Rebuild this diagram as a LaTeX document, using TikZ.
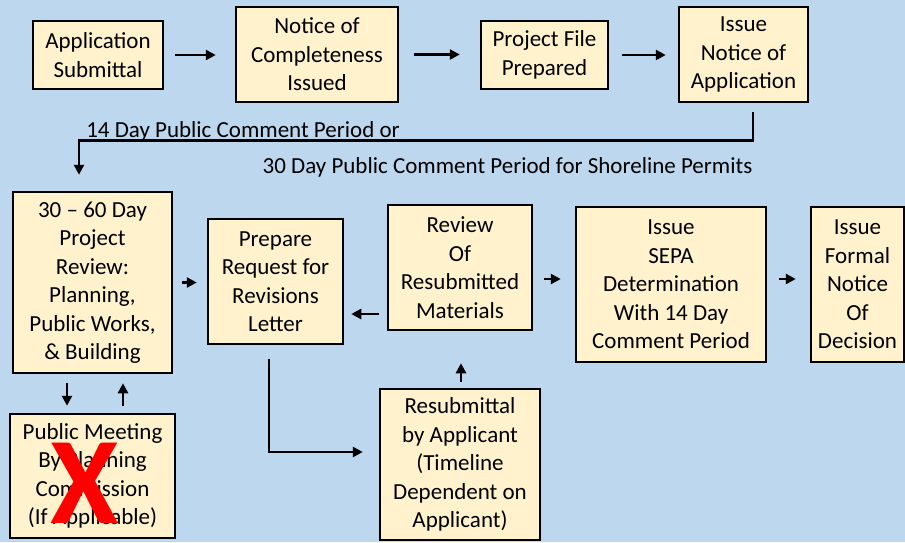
\documentclass[tikz,border=0pt]{standalone}
\usepackage{fontspec}
\setmainfont{Carlito}
\usetikzlibrary{arrows.meta}

\definecolor{hellblau}{RGB}{189,215,238}
\definecolor{kasten}{RGB}{255,242,204}

\begin{document}
\begin{tikzpicture}[x=1pt,y=-1pt,
		schritt/.style={draw,line width=2.5pt,fill=kasten,align=center,inner sep=0pt,
			font=\fontsize{23}{28.5}\selectfont},
		pfeil/.style={line width=2.8pt,-{Triangle[length=10pt,width=10pt]}},
		hinweis/.style={font=\fontsize{23}{28.5}\selectfont,inner sep=0pt,anchor=base}]
		
		% Hintergrund
		\useasboundingbox (0,0) rectangle (905,542);
		\fill[hellblau] (0,0) rectangle (905,542);
		
		% Obere Reihe
		\node[schritt,minimum width=130pt,minimum height=68pt] (antrag) at (98,55) {Application\\Submittal};
		\node[schritt,minimum width=162pt,minimum height=95pt] (vollst) at (317,54.5) {Notice of\\Completeness\\Issued};
		\node[schritt,minimum width=127pt,minimum height=68pt] (akte) at (544.5,55) {Project File\\Prepared};
		\node[schritt,minimum width=129pt,minimum height=95pt] (noa) at (743.5,54.5) {Issue\\Notice of\\Application};
		
		% Untere Reihe
		\node[schritt,minimum width=159pt,minimum height=181pt] (pruefung) at (92.5,282.5) {30 -- 60 Day\\Project\\Review:\\Planning,\\Public Works,\\\& Building};
		\node[schritt,minimum width=135pt,minimum height=125pt] (anfrage) at (275.5,281.5) {Prepare\\Request for\\Revisions\\Letter};
		\node[schritt,minimum width=144pt,minimum height=125pt] (nachpruef) at (460,267.5) {Review\\Of\\Resubmitted\\Materials};
		\node[schritt,minimum width=190pt,minimum height=155pt] (sepa) at (671,284.5) {Issue\\SEPA\\Determination\\With 14 Day\\Comment Period};
		\node[schritt,minimum width=93pt,minimum height=155pt] (bescheid) at (857.5,284.5) {Issue\\Formal\\Notice\\Of\\Decision};
		\node[schritt,minimum width=165pt,minimum height=124pt] (sitzung) at (92.5,476) {Public Meeting\\By Planning\\Commission\\(If Applicable)};
		\node[schritt,minimum width=160pt,minimum height=151pt] (neuein) at (460,464.5) {Resubmittal\\by Applicant\\(Timeline\\Dependent on\\Applicant)};
		
		% Durchgestrichen
		\node[text=red,font=\fontsize{124}{124}\selectfont\bfseries,inner sep=0pt] (kreuz) at (85,483) {X};
		
		% Pfeile oben
		\draw[pfeil,shorten <=11pt,shorten >=19pt] (antrag.east) -- (antrag.east -| vollst.west);
		\draw[pfeil,shorten <=15pt,shorten >=20pt] (vollst.east) -- (vollst.east -| akte.west);
		\draw[pfeil,shorten <=13pt,shorten >=12pt] (akte.east) -- (akte.east -| noa.west);
		
		% Kommentarfrist
		\draw[pfeil,shorten <=9pt,shorten >=16pt] ([xshift=9.5pt]noa.south) -- ++(0,37) -| ([xshift=-13.5pt]pruefung.north);
		\node[hinweis] (frist14) at (243,137) {14 Day Public Comment Period or};
		\node[hinweis] (frist30) at (507.5,173) {30 Day Public Comment Period for Shoreline Permits};
		
		% Pfeile unten
		\draw[pfeil,shorten <=9pt,shorten >=10pt] (pruefung.east) -- (pruefung.east -| anfrage.west);
		\draw[pfeil,shorten <=8pt,shorten >=7pt] ([yshift=-46.5pt]nachpruef.west) -- ([yshift=-46.5pt]nachpruef.west -| anfrage.east);
		\draw[pfeil,shorten <=11pt,shorten >=14pt] ([yshift=5.5pt]sepa.west -| nachpruef.east) -- ([yshift=5.5pt]sepa.west);
		\draw[pfeil,shorten <=12pt,shorten >=14pt] ([yshift=5.5pt]sepa.east) -- ([yshift=5.5pt]sepa.east -| bescheid.west);
		
		% Sitzung hin und zurueck
		\draw[pfeil,shorten <=9pt,shorten >=7pt] ([xshift=-25.5pt]pruefung.south) -- ([xshift=-25.5pt]pruefung.south |- sitzung.north);
		\draw[pfeil,shorten <=7pt,shorten >=9pt] ([xshift=30.5pt]sitzung.north) -- ([xshift=30.5pt]sitzung.north |- pruefung.south);
		
		% Ueberarbeitung
		\draw[pfeil,shorten <=14pt,shorten >=16pt] ([xshift=-6.5pt]anfrage.south) |- ([yshift=12.5pt]neuein.west);
		\draw[pfeil,shorten <=6pt,shorten >=32pt] ([xshift=1pt]neuein.north) -- ([xshift=1pt]neuein.north |- nachpruef.south);
		
	\end{tikzpicture}
\end{document}
